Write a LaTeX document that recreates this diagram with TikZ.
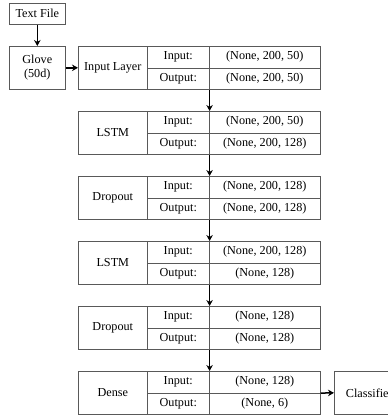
\documentclass[tikz,border=0pt]{standalone}
\usepackage{fontspec}
\setmainfont{Liberation Serif}
\usetikzlibrary{arrows.meta}

\tikzset{
  cell/.style={draw=black!65, line width=0.6pt, minimum height=21.5pt, inner sep=0pt, anchor=north west},
  arr/.style={-{Stealth[length=6pt,width=6.5pt]}, line width=1.5pt},
}

\begin{document}
\begin{tikzpicture}[x=1pt,y=-1pt,font=\fontsize{12.2}{14}\selectfont]
  \useasboundingbox (0,0) rectangle (388,416);
  \clip (0,0) rectangle (388,416);
  \node[cell, minimum width=56, minimum height=21] (txt) at (9,3) {Text File};
  \node[cell, minimum width=56, minimum height=43, align=center] (glove) at (9,46) {Glove\\(50d)};
  % layer blocks
  \foreach \k/\lname/\inval/\outval in {
      0/Input Layer/{(None, 200, 50)}/{(None, 200, 50)},
      1/LSTM/{(None, 200, 50)}/{(None, 200, 128)},
      2/Dropout/{(None, 200, 128)}/{(None, 200, 128)},
      3/LSTM/{(None, 200, 128)}/{(None, 128)},
      4/Dropout/{(None, 128)}/{(None, 128)},
      5/Dense/{(None, 128)}/{(None, 6)}}
  {
    \pgfmathsetmacro\yy{46+65*\k}
    \node[cell, minimum width=69, minimum height=43] (b\k) at (78,\yy) {\lname};
    \node[cell, minimum width=62] (b\k-in) at (147,\yy) {Input:};
    \node[cell, minimum width=62] (b\k-out) at (147,\yy+21.5) {Output:};
    \node[cell, minimum width=111] (b\k-inv) at (209,\yy) {\inval};
    \node[cell, minimum width=111] (b\k-outv) at (209,\yy+21.5) {\outval};
  }
  \node[cell, minimum width=70, minimum height=43] (cls) at (334,371) {Classifier};

  \draw[arr] (txt) -- (glove);
  \draw[arr] (glove) -- (b0);
  \foreach \k [evaluate=\k as \j using int(\k+1)] in {0,...,4}
    \draw[arr] (b\k-out.south east) -- (b\j-in.north east);
  \draw[arr] (b5-inv.south east) -- (cls.west);
\end{tikzpicture}
\end{document}
